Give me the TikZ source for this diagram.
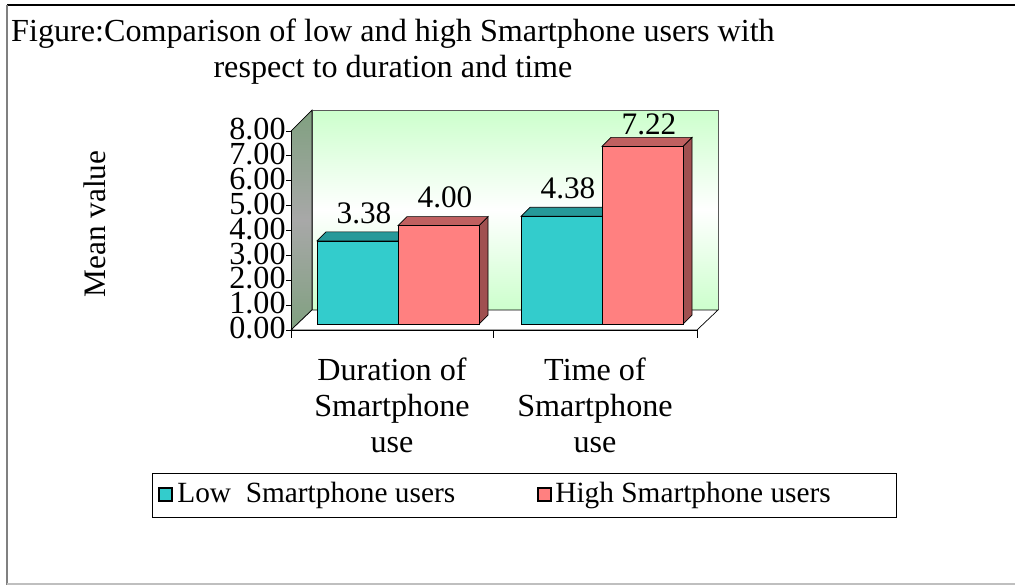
\documentclass[tikz,border=0pt]{standalone}
\usepackage{fontspec}
\setmainfont{Liberation Serif}
\definecolor{lowfront}{HTML}{33CCCC}
\definecolor{lowtop}{HTML}{269999}
\definecolor{highfront}{HTML}{FF8080}
\definecolor{hightop}{HTML}{C06060}
\definecolor{highside}{HTML}{A05050}
\definecolor{wallgreen}{HTML}{CCFFCC}
\definecolor{sidegreen}{HTML}{80A080}
\definecolor{sidegray}{HTML}{A8A8A8}

\begin{document}
\begin{tikzpicture}[x=0.02cm, y=-0.02cm, font=\fontsize{18.3}{20.5}\selectfont]
    % Sizes of the chart in pixels of the drawing
    \def\unit{24.6}
    \def\depth{9}
    \def\barwidth{81}

    % One 3D bar: left x, value, front, top and side colour, gap of the label
    \newcommand{\drawbar}[6]{%
        \pgfmathsetmacro\bartop{324-#2*\unit}%
        \pgfmathsetmacro\barright{#1+\barwidth}%
        \fill[#5, draw=black, line width=0.4pt] (\barright,324) -- ++(\depth,-\depth) -- (\barright+\depth,\bartop-\depth) -- (\barright,\bartop) -- cycle;
        \fill[#4, draw=black, line width=0.4pt] (#1,\bartop) -- ++(\depth,-\depth) -- (\barright+\depth,\bartop-\depth) -- (\barright,\bartop) -- cycle;
        \fill[#3, draw=black, line width=0.4pt] (#1,324) rectangle (\barright,\bartop);
        \node[font=\fontsize{17.8}{20}\selectfont] at (#1+\barwidth/2+\depth/2+2, \bartop-\depth-#6) {#2};
    }

    \useasboundingbox (0,0) rectangle (1015,585);

    % Frame of the figure
    \draw[black, line width=0.8pt] (7,5) -- (1015,5);
    \draw[gray, line width=1pt] (7,5) -- (7,585);
    \draw[lightgray, line width=0.8pt] (7,584) -- (1015,584);

    % Title
    \node[align=center] (title) at (393,52) {Figure:Comparison of low and high Smartphone users with\\respect to duration and time};

    % Back wall and left wall
    \shade[top color=wallgreen, bottom color=wallgreen, middle color=white] (312,110) rectangle (718,310);
    \draw[gray!70!black, line width=0.4pt] (312,310) -- (312,110) -- (718,110) -- (718,310);
    \shade[top color=sidegreen, bottom color=sidegreen, middle color=sidegray] (291,131) -- (312,110) -- (312,310) -- (291,330) -- cycle;
    \draw[black, line width=0.4pt] (291,131) -- (312,110) -- (312,310) -- (291,330);

    % Floor
    \draw[fill=white, line width=0.4pt] (291,330) -- (312,310) -- (718,310) -- (697,330) -- cycle;

    % Value axis with ticks and labels
    \draw[line width=0.5pt] (291,131) -- (291,330);
    \foreach \v in {0,...,8} {
        \draw[line width=0.5pt] (286,{330-\v*24.875}) -- (291,{330-\v*24.875});
        \node[anchor=east, inner sep=0pt, text height=1.4ex, text depth=0pt] (tick\v) at (286,{333-\v*24.875}) {\v.00};
    }
    \node[rotate=90, font=\fontsize{17.8}{20}\selectfont] (ylabel) at (95,224) {Mean value};

    % Category axis
    \draw[line width=0.5pt] (291,330) -- (697,330);
    \foreach \x in {291,493,697}
        \draw[line width=0.5pt] (\x,330) -- (\x,338);

    % Bars
    \drawbar{317}{3.38}{lowfront}{lowtop}{lowfront}{19}
    \drawbar{398}{4.00}{highfront}{hightop}{highside}{19}
    \drawbar{521}{4.38}{lowfront}{lowtop}{lowfront}{19}
    \drawbar{602}{7.22}{highfront}{hightop}{highside}{13}

    % Category labels
    \node[align=center] (cat1) at (392,405) {Duration of\\Smartphone\\use};
    \node[align=center] (cat2) at (595,405) {Time of\\Smartphone\\use};

    % Legend
    \begin{scope}[font=\fontsize{16.7}{20}\selectfont]
        \draw[line width=0.5pt] (152,473) rectangle (896,517);
        \draw[fill=lowfront, line width=1.2pt] (159,488) rectangle (172,501);
        \node[anchor=west, inner sep=0pt] (lowlabel) at (177,495) {Low\ \ Smartphone users};
        \draw[fill=highfront, line width=1.2pt] (538,488) rectangle (551,501);
        \node[anchor=west, inner sep=0pt] (highlabel) at (555,495) {High Smartphone users};
    \end{scope}
\end{tikzpicture}
\end{document}
